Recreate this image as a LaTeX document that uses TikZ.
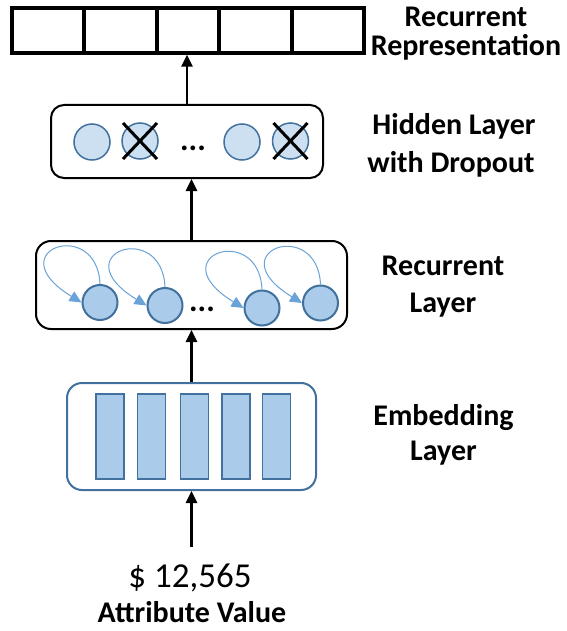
\documentclass[tikz,border=0pt]{standalone}
\usepackage{fontspec}
\setmainfont{Carlito}
\usetikzlibrary{arrows.meta,calc}
\definecolor{bord}{HTML}{41719C}
\definecolor{darkfill}{HTML}{AACBEA}
\definecolor{lightfill}{HTML}{CDE0F2}
\definecolor{loopcol}{HTML}{6AA3D8}
\tikzset{
  cell/.style={draw=black,line width=3.5pt,minimum height=45pt,inner sep=0pt,anchor=west},
  layerbox/.style={draw=black,line width=2pt,rounded corners=13pt,inner sep=0pt},
  embbox/.style={draw=bord,line width=2pt,rounded corners=15pt,inner sep=0pt},
  hidnode/.style={circle,draw=bord,line width=1.5pt,fill=lightfill,minimum size=36pt,inner sep=0pt},
  recnode/.style={circle,draw=bord,line width=2pt,fill=darkfill,minimum size=35pt,inner sep=0pt},
  bar/.style={draw=bord,line width=1.5pt,fill=darkfill,minimum width=28pt,minimum height=85pt,inner sep=0pt},
  arr/.style={draw=black,line width=2.5pt,-{Triangle[length=12pt,width=11pt]}},
  loopy/.style={draw=loopcol,line width=1pt,-{Triangle[length=12pt,width=11pt,fill=loopcol]}},
  cross/.style={draw=black,line width=3pt},
  lbl/.style={font=\fontsize{30}{34}\selectfont\bfseries,anchor=base,inner sep=0pt},
  dots/.style={font=\fontsize{32}{34}\selectfont\bfseries,anchor=base,inner sep=0pt},
}
\begin{document}
\begin{tikzpicture}[x=1pt,y=-1pt]
\useasboundingbox[fill=white] (0,0) rectangle (566,631);
% recurrent representation cells
\node[cell,minimum width=72pt] (r1) at (10,30.5) {};
\node[cell,minimum width=73pt] (r2) at (82,30.5) {};
\node[cell,minimum width=62pt] (r3) at (155,30.5) {};
\node[cell,minimum width=73pt] (r4) at (217,30.5) {};
\node[cell,minimum width=72pt] (r5) at (290,30.5) {};
\node[lbl] (trr1) at (466,27) {Recurrent};
\node[lbl] (trr2) at (466,56) {Representation};
% hidden layer
\node[layerbox,minimum width=272pt,minimum height=73pt] (hid) at (187,141.5) {};
\node[hidnode] (h1) at (92,142) {};
\node[hidnode] (h2) at (140,141) {};
\node[hidnode] (h3) at (242,142) {};
\node[hidnode] (h4) at (290.5,141) {};
\draw[cross] ($(h2)+(-17,-18)$) -- ($(h2)+(17,18)$);
\draw[cross] ($(h2)+(17,-18)$) -- ($(h2)+(-17,18)$);
\draw[cross] ($(h4)+(-17,-18)$) -- ($(h4)+(17,18)$);
\draw[cross] ($(h4)+(17,-18)$) -- ($(h4)+(-17,18)$);
\node[dots] (hd) at (193,150) {...};
\node[lbl] (th1) at (454,135) {Hidden Layer};
\node[lbl] (th2) at (451,172) {with Dropout};
% recurrent layer
\node[layerbox,rounded corners=15pt,minimum width=311pt,minimum height=88pt] (rec) at (191.5,285) {};
\node[recnode] (c1) at (100,302.5) {};
\node[recnode] (c2) at (165,305.5) {};
\node[recnode] (c3) at (262,308) {};
\node[recnode] (c4) at (320.5,303) {};
\foreach \c in {c1,c2,c3,c4}{
  \draw[loopy] (\c.north) .. controls +(-3,-68) and +(-85,-52) .. (\c.west);
}
\node[dots] (rd) at (202,311) {...};
\node[lbl] (tr1) at (443,275) {Recurrent};
\node[lbl] (tr2) at (443,312) {Layer};
% embedding layer
\node[embbox,minimum width=249pt,minimum height=107pt] (emb) at (191.5,436.5) {};
\node[bar] (b1) at (110.2,436.5) {};
\node[bar] (b2) at (151.6,436.5) {};
\node[bar] (b3) at (194.5,436.5) {};
\node[bar] (b4) at (236.1,436.5) {};
\node[bar] (b5) at (276.3,436.5) {};
\node[lbl] (te1) at (443.5,425) {Embedding};
\node[lbl] (te2) at (443.5,460) {Layer};
% input
\coordinate (src) at (191.5,547);
\node[font=\fontsize{35}{40}\selectfont,anchor=base,inner sep=0pt] (val) at (190,587) {\$ 12,565};
\node[lbl] (tav) at (192,622) {Attribute Value};
% arrows
\draw[arr] (src) -- (emb.south);
\draw[arr] (emb.north) -- (emb.north |- rec.south);
\draw[arr] (rec.north) -- (rec.north |- hid.south);
\draw[arr] (hid.north) -- (hid.north |- r3.south);
\end{tikzpicture}
\end{document}
